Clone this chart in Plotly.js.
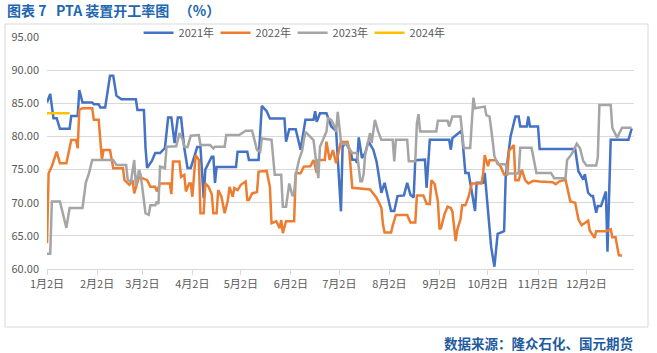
<!DOCTYPE html>
<html>
<head>
<meta charset="utf-8">
<script src="https://cdn.plot.ly/plotly-3.0.1.min.js"></script>
<style>
html,body{margin:0;padding:0;background:#fff;}
#chart{width:657px;height:353px;}
</style>
</head>
<body>
<div id="chart"></div>
<script>
// ---- Data (month-day of each observation, plotted on a common Jan–Dec axis) ----
const seriesNames = ["2021年", "2022年", "2023年", "2024年"];
const seriesColors = ["#4472C4", "#ED7D31", "#A5A5A5", "#FFC000"];

const dates2021 = ["01-02","01-04","01-06","01-08","01-10","01-16","01-17","01-21","01-22","01-24",
"01-30","01-31","02-03","02-04","02-07","02-10","02-12","02-14","02-17","02-26",
"02-27","03-03","03-04","03-05","03-08","03-10","03-13","03-16","03-18","03-20",
"03-22","03-24","03-26","03-28","03-30","04-01",
"04-05","04-07","04-09","04-10","04-14","04-15","04-16","04-17","04-29","04-30",
"05-06","05-07","05-13","05-15","05-18","05-20","05-29","05-30","06-01","06-05",
"06-08","06-11","06-16","06-17","06-18","06-20","06-24","06-27","06-30","07-03",
"07-04","07-06","07-09","07-10","07-12","07-13","07-14","07-16","07-18","07-20",
"07-23","07-25","07-26","07-28","07-30","08-01","08-03","08-05","08-07","08-11",
"08-13","08-15","08-17","08-18","08-24","08-25","08-27","09-08","09-09","09-10",
"09-15","09-16","09-18","09-20","09-24","09-25","09-29","09-30","10-04","10-06",
"10-08","10-12","10-13","10-16","10-19","10-21","10-22","10-26","10-27","10-28",
"11-02","11-03","11-25","11-27","11-30","12-01","12-03","12-05","12-06","12-08",
"12-09","12-11","12-14","12-15","12-17","12-28","12-30"];
const values2021 = [85.1,86.4,82.75,82.75,81.15,81.15,83.1,83.1,87,85.1,
85.1,84.85,84.85,84.35,84.35,89.15,89.15,86.15,85.6,85.6,
84,84,78.25,75.25,76.35,77.5,77.5,78.25,82.85,82.85,
79,82.85,82.85,78.25,75.25,75.25,
78.4,78.4,70.7,75,76.95,76.95,73,75.4,75.4,77.7,
77.7,76.45,76.45,84.6,83.8,82.7,82.7,79.2,81.1,81.1,
78,82.5,82.5,83.8,82.2,83.5,83.5,81.5,80.8,68.7,
78.5,79,77.75,76.5,76.5,76,79.85,76.75,77.5,79.25,
78,76.25,74.75,71.5,73,70.75,68.75,68.75,71,71.1,
73,71.2,70.8,76.4,76.5,72.25,79.5,79.5,78,79.75,
80.75,80.25,74.5,74.5,68.75,73,73,74.5,63.25,60.35,
65.3,65.7,74,80,83,83,81.5,81.5,83,81.5,
81.5,78.1,78.1,74.75,73.5,74.3,71.5,71,71,68.5,
69.5,69.5,71.7,62.6,79.5,79.5,81.2];

const dates2022 = ["01-02","01-03","01-05","01-08","01-10","01-14","01-17","01-20","01-21","01-22",
"01-24","01-30","01-31","02-03","02-05","02-06","02-10","02-12","02-18","02-19",
"02-22","02-24","02-25","02-27","02-28","03-03","03-05","03-07","03-10","03-11",
"03-13","03-19","03-20","03-21","03-25","03-26","03-28","03-29","03-31","04-01",
"04-02","04-04","04-06","04-07","04-09","04-10","04-12","04-14","04-15","04-17",
"04-18",
"04-20","04-22","04-24","04-25","04-27","04-28","04-30","05-02","05-05","05-06",
"05-07","05-09","05-12","05-13","05-18","05-20","05-21","05-24","05-26","05-27",
"05-28","05-30","06-04","06-05","06-08","06-10","06-14","06-16","06-18","06-19",
"06-23","06-24","06-26","06-28","06-30","07-02","07-03","07-05","07-07","07-08",
"07-10","07-21","07-25","07-28","07-29","07-30","08-03","08-04","08-06","08-13",
"08-15","08-18","08-19","08-23","08-25","08-27","08-28","08-30","09-01","09-02",
"09-03","09-05","09-07","09-09","09-10","09-12","09-13","09-15","09-16","09-18",
"09-20","09-22","09-28","09-29","09-30","10-02","10-03","10-07","10-10","10-12",
"10-14","10-15","10-18","10-19","10-21","10-23","10-25","10-27","10-30","11-03",
"11-11","11-13","11-15","11-19","11-22","11-25","11-27","11-29","12-03","12-04",
"12-07","12-08","12-14","12-17","12-18","12-20","12-22","12-24"];
const values2022 = [63.9,74.45,75.5,77.7,75.95,75.95,79.45,79.45,78.2,84,
84.25,84.25,82.5,82.5,76.45,77.95,77.95,75.2,75.2,73.4,
72.7,73.4,71.4,73.2,73.9,73.6,73.4,72.4,72.4,71.7,
72.9,72.9,71.3,76.2,76.2,73.9,74.2,71.7,72.9,72.9,
70.9,77.2,76.45,68.4,68.4,72.9,72.4,71.3,68.4,68.4,
71.9,
70.9,68.4,70.4,72.4,70.9,72.2,71.9,72.7,73.2,70.4,
70.4,71.4,71.6,74.7,74.8,72.4,66.9,67.2,66.15,67.4,
65.4,67.2,67.2,74.45,74.45,75.45,75.5,76.45,74.5,76.45,
76.45,79.2,76.45,77.95,75.95,78,79.2,79.15,79.2,78.25,
72.25,72,70.75,69.25,66.75,65.5,65.5,66.5,68.15,68.15,
67,67,71.1,71.1,69.85,69.8,73.4,72.8,70.2,66,
66.2,68.2,69.4,69.2,68.65,64.2,65.9,67.5,69.6,69.6,
70.9,72.9,72.9,74.4,77.2,75.5,76.4,76.4,75.4,74.25,
74.25,77.8,78.7,73.4,73.4,75,73.4,72.9,73.3,73.2,
73.1,72.8,73.2,73.5,70.2,70,67.5,66.6,67.3,65.8,
64.7,65.7,65.7,66,64.8,64.8,62.1,62];

const dates2023 = ["01-02","01-04","01-05","01-10","01-14","01-16","01-24","01-26","01-28","01-30",
"02-12","02-14","02-20","02-21","02-23","02-25","02-26","02-28","03-01","03-03",
"03-04","03-06","03-07","03-10","03-11","03-12","03-13","03-16","03-17","03-23",
"03-25","03-27","03-28","03-30","04-01","04-06","04-07","04-13","04-15","04-16",
"04-22","04-23","05-01","05-05","05-09","05-12","05-14","05-15","05-21","05-23",
"05-27","05-28","05-30","06-01","06-03","06-04","06-05","06-07","06-09","06-10",
"06-11","06-13","06-16","06-18","06-19","06-20","06-22","06-24","06-25","06-27",
"06-29","06-30","07-01","07-02","07-03","07-04","07-07","07-08","07-10","07-13",
"07-14","07-15","07-16","07-17","07-18","07-19","07-21","07-22","07-24","07-26",
"07-28","08-04","08-05","08-06","08-13","08-14","08-18","08-19","08-20","08-21",
"08-31","09-01","09-07","09-08","09-10","09-15","09-17","09-21","09-23","09-24",
"09-30","10-01","10-03","10-05","10-06","10-08","10-13","10-14","10-21","10-22",
"10-29","11-01","11-10","11-12","11-19","11-20","11-23","11-26","11-28","11-30",
"12-02","12-08","12-09","12-10","12-17","12-18","12-21","12-24","12-30"];
const values2023 = [62.3,62.3,70.2,70.2,66.2,69.2,69.2,73,74.45,76.45,
76.45,75.7,75.7,73.4,73.2,76.45,72.6,74.95,74.2,70.4,
68.4,68.2,69.6,69.6,70.2,69.8,75.45,75.2,78.45,78.5,
80.5,79.5,78.45,78.4,80.1,80.2,78.7,78.7,78.2,78.45,
78.45,80.2,80.2,80.85,80.85,77.95,77.7,79.7,79.5,74.2,
74.2,69.4,69.4,72.9,71,71.4,74.2,76.45,77.9,79.45,
80.7,80.2,79.45,75.45,73.7,78.45,79.45,80.7,82.75,82.5,
81.5,80.7,83.7,81.2,79.2,78.85,78.85,78.15,77.5,77.5,
75.75,73.25,73.25,74.25,77.25,78.5,80.5,79,82.5,80.75,
79.5,79.5,76.25,79.5,79.5,76.25,76.25,82,83.35,80.75,
80.75,82.35,82.35,81.5,83,83,78.25,78.25,85.85,84.25,
84.5,83.2,83,79.2,77,75.8,75.8,74.4,74.4,78.3,
78.3,74.5,74.5,73.7,73.7,76.45,77.4,78.9,78.2,76.3,
75.6,75.6,76.8,84.75,84.75,81.3,79.8,81.3,81.3];

const dates2024 = ["01-02","01-03","01-04","01-05","01-08","01-09","01-10","01-11","01-12","01-15","01-16"];
const values2024 = [83.5,83.5,83.5,83.5,83.5,83.5,83.5,83.5,83.5,83.5,83.5];

const tickDates = ["01-02","02-02","03-02","04-02","05-02","06-02","07-02","08-02","09-02","10-02","11-02","12-02"];
const tickLabels = ["1月2日","2月2日","3月2日","4月2日","5月2日","6月2日","7月2日","8月2日","9月2日","10月2日","11月2日","12月2日"];

// ---- Build chart ----
const axisYear = "2021-";
const toAxis = arr => arr.map(d => axisYear + d);
const allDates = [dates2021, dates2022, dates2023, dates2024];
const allValues = [values2021, values2022, values2023, values2024];

const FONT = '"Noto Sans CJK SC", "Noto Sans", sans-serif';

const traces = seriesNames.map((name, i) => ({
  type: "scatter",
  mode: "lines",
  name: name,
  x: toAxis(allDates[i]),
  y: allValues[i],
  line: {color: seriesColors[i], width: 2.5},
  hoverinfo: "x+y+name"
}));

const layout = {
  width: 657,
  height: 353,
  margin: {l: 47, r: 23, t: 37, b: 84},
  paper_bgcolor: "#ffffff",
  plot_bgcolor: "#ffffff",
  font: {family: FONT, color: "#595959", size: 11},
  showlegend: true,
  legend: {
    orientation: "h",
    x: 0.156, xanchor: "left",
    y: 1.018, yanchor: "middle",
    font: {family: FONT, size: 11, color: "#595959"},
    itemwidth: 30,
    entrywidth: 32,
    entrywidthmode: "pixels",
    bgcolor: "rgba(0,0,0,0)",
    traceorder: "normal"
  },
  xaxis: {
    type: "date",
    range: ["2021-01-02", "2021-12-31 10:00"],
    tickmode: "array",
    tickvals: toAxis(tickDates),
    ticktext: tickLabels,
    showgrid: false,
    zeroline: false,
    showline: true,
    linecolor: "#d9d9d9",
    linewidth: 1,
    ticks: "outside",
    ticklen: 5,
    tickcolor: "#d9d9d9",
    tickfont: {family: FONT, size: 11, color: "#595959"},
    fixedrange: true
  },
  yaxis: {
    range: [60, 95],
    dtick: 5,
    tick0: 60,
    tickformat: ".2f",
    showgrid: true,
    gridcolor: "#d9d9d9",
    gridwidth: 1,
    zeroline: false,
    showline: false,
    ticks: "",
    ticklabelstandoff: 7,
    tickfont: {family: FONT, size: 11, color: "#595959"},
    fixedrange: true
  },
  shapes: [{
    type: "rect", xref: "paper", yref: "paper",
    x0: -0.0716, x1: 1.0239, y0: -0.25, y1: 1.056,
    line: {color: "#d9d9d9", width: 1},
    fillcolor: "rgba(0,0,0,0)",
    layer: "below"
  }],
  annotations: [
    {
      xref: "paper", yref: "paper",
      x: -0.0716, xanchor: "left",
      y: 1.118, yanchor: "middle",
      showarrow: false,
      text: "<b>图表 7\u00a0\u00a0\u00a0PTA 装置开工率图\u00a0\u00a0\u00a0（%）</b>",
      font: {family: FONT, size: 14, color: "#2166b0"}
    },
    {
      xref: "paper", yref: "paper",
      x: 1.0017, xanchor: "right",
      y: -0.318, yanchor: "middle",
      showarrow: false,
      text: "<b>数据来源：隆众石化、国元期货</b>",
      font: {family: FONT, size: 13.5, color: "#1f5c9e"}
    }
  ]
};

Plotly.newPlot("chart", traces, layout, {displayModeBar: false, staticPlot: true});
</script>
</body>
</html>
